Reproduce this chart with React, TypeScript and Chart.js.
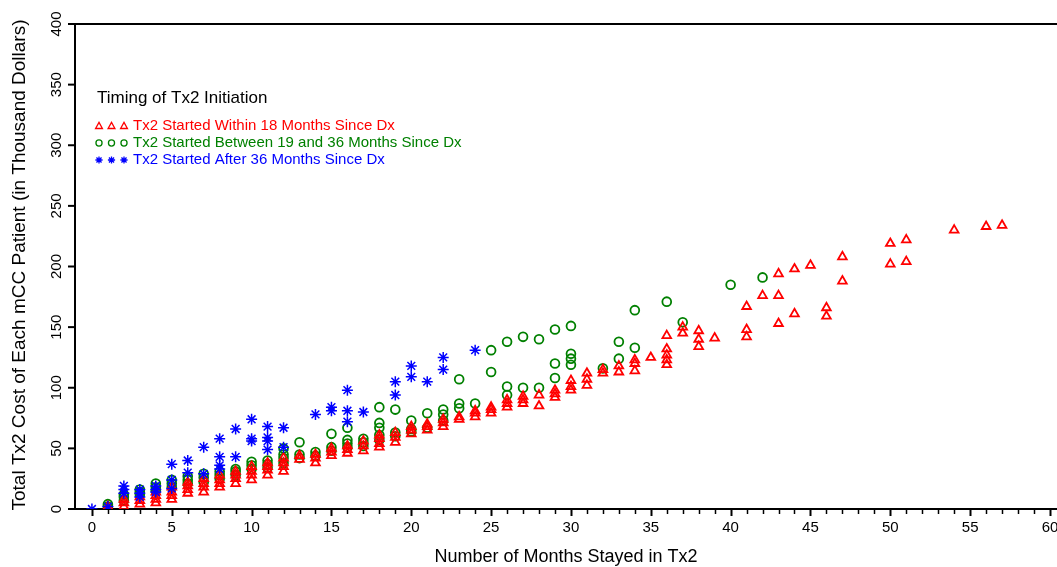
import React, { useEffect, useRef } from 'react';
import { Chart, registerables } from 'chart.js';

Chart.register(...registerables);

// ---- Data (months stayed in Tx2, cost in thousand dollars) ----
const seriesLabels = [
  'Tx2 Started Within 18 Months Since Dx',
  'Tx2 Started Between 19 and 36 Months Since Dx',
  'Tx2 Started After 36 Months Since Dx',
];

const within18: [number, number][] = [
  [1, 0], [1, 2],
  [2, 2], [2, 5], [2, 8],
  [3, 4], [3, 7], [3, 10],
  [4, 5], [4, 8], [4, 11], [4, 14],
  [5, 8], [5, 11], [5, 14], [5, 18],
  [6, 13], [6, 16], [6, 19], [6, 22],
  [7, 14], [7, 18], [7, 21], [7, 25],
  [8, 18], [8, 21], [8, 24], [8, 28],
  [9, 21], [9, 25], [9, 28], [9, 31],
  [10, 24], [10, 28], [10, 31], [10, 35],
  [11, 28], [11, 32], [11, 35], [11, 38],
  [12, 31], [12, 35], [12, 38], [12, 42],
  [13, 41], [13, 44],
  [14, 38], [14, 42], [14, 45],
  [15, 44], [15, 47], [15, 50],
  [16, 46], [16, 49], [16, 52],
  [17, 48], [17, 52], [17, 56],
  [18, 51], [18, 54], [18, 58], [18, 61],
  [19, 55], [19, 59], [19, 63],
  [20, 62], [20, 65], [20, 68],
  [21, 65], [21, 68], [21, 70],
  [22, 68], [22, 71], [22, 74],
  [23, 74], [23, 76],
  [24, 76], [24, 79], [24, 81],
  [25, 79], [25, 82], [25, 84],
  [26, 84], [26, 87], [26, 90],
  [27, 87], [27, 90], [27, 93],
  [28, 85], [28, 94],
  [29, 92], [29, 95], [29, 98],
  [30, 98], [30, 101], [30, 106],
  [31, 102], [31, 107], [31, 112],
  [32, 112], [32, 115],
  [33, 113], [33, 118],
  [34, 114], [34, 120], [34, 123],
  [35, 125],
  [36, 119], [36, 123], [36, 127], [36, 132], [36, 143],
  [37, 145], [37, 150],
  [38, 134], [38, 140], [38, 147],
  [39, 141],
  [41, 142], [41, 148], [41, 167],
  [42, 176],
  [43, 153], [43, 176], [43, 194],
  [44, 161], [44, 198],
  [45, 201],
  [46, 159], [46, 166],
  [47, 188], [47, 208],
  [50, 202], [50, 219],
  [51, 204], [51, 222],
  [54, 230], [56, 233], [57, 234],
];

const between19and36: [number, number][] = [
  [1, 2], [1, 4],
  [2, 7], [2, 10], [2, 12],
  [3, 12], [3, 14], [3, 16],
  [4, 15], [4, 18], [4, 21],
  [5, 18], [5, 21], [5, 24],
  [6, 21], [6, 24], [6, 27],
  [7, 22], [7, 26], [7, 29],
  [8, 25], [8, 28], [8, 31],
  [9, 28], [9, 31], [9, 33],
  [10, 33], [10, 36], [10, 39],
  [11, 34], [11, 37], [11, 40],
  [12, 38], [12, 42], [12, 45], [12, 50],
  [13, 42], [13, 45], [13, 55],
  [14, 44], [14, 47],
  [15, 48], [15, 51], [15, 62],
  [16, 51], [16, 54], [16, 57], [16, 67],
  [17, 52], [17, 55], [17, 58],
  [18, 57], [18, 61], [18, 67], [18, 71], [18, 84],
  [19, 60], [19, 63], [19, 82],
  [20, 64], [20, 66], [20, 73],
  [21, 67], [21, 79],
  [22, 73], [22, 78], [22, 82],
  [23, 83], [23, 87], [23, 107],
  [24, 87],
  [25, 113], [25, 131],
  [26, 94], [26, 101], [26, 138],
  [27, 100], [27, 142],
  [28, 100], [28, 140],
  [29, 108], [29, 120], [29, 148],
  [30, 119], [30, 124], [30, 128], [30, 151],
  [32, 116],
  [33, 124], [33, 138],
  [34, 133], [34, 164],
  [36, 171],
  [37, 154],
  [40, 185],
  [42, 191],
];

const after36: [number, number][] = [
  [0, 0], [1, 2],
  [2, 13], [2, 16], [2, 19],
  [3, 10], [3, 13], [3, 16],
  [4, 14], [4, 16], [4, 19],
  [5, 17], [5, 24], [5, 37],
  [6, 30], [6, 40],
  [7, 29], [7, 51],
  [8, 33], [8, 36], [8, 43], [8, 58],
  [9, 43], [9, 66],
  [10, 56], [10, 58], [10, 74],
  [11, 49], [11, 56], [11, 59], [11, 68],
  [12, 51], [12, 67],
  [14, 78],
  [15, 81], [15, 84],
  [16, 72], [16, 81], [16, 98],
  [17, 80],
  [19, 94], [19, 105],
  [20, 109], [20, 118],
  [21, 105],
  [22, 115], [22, 125],
  [24, 131],
];

const xTickValues = [0, 5, 10, 15, 20, 25, 30, 35, 40, 45, 50, 55, 60];
const yTickValues = [0, 50, 100, 150, 200, 250, 300, 350, 400];
const xMinorStep = 1;

const seriesColors = ['#ff0000', '#008000', '#0000ff'];
const seriesShapes = ['triangle', 'circle', 'star'];

const FONT = '"Liberation Sans", Arial, Helvetica, sans-serif';

function drawShape(ctx: CanvasRenderingContext2D, shape: string, x: number, y: number, r: number) {
  ctx.beginPath();
  if (shape === 'triangle') {
    ctx.moveTo(x, y - r);
    ctx.lineTo(x + r * 0.95, y + r * 0.7);
    ctx.lineTo(x - r * 0.95, y + r * 0.7);
    ctx.closePath();
  } else if (shape === 'circle') {
    ctx.arc(x, y, r * 0.85, 0, Math.PI * 2);
  } else {
    for (let i = 0; i < 4; i++) {
      const a = (i * Math.PI) / 4;
      ctx.moveTo(x - Math.cos(a) * r, y - Math.sin(a) * r);
      ctx.lineTo(x + Math.cos(a) * r, y + Math.sin(a) * r);
    }
  }
  ctx.stroke();
}

const decorPlugin = {
  id: 'decor',
  afterDraw(chart: any) {
    const { ctx, chartArea: area } = chart;
    const xs = chart.scales.x;
    const ys = chart.scales.y;
    ctx.save();
    ctx.strokeStyle = '#000';
    ctx.fillStyle = '#000';

    // top frame line
    ctx.lineWidth = 2;
    ctx.beginPath();
    ctx.moveTo(area.left - 1, area.top);
    ctx.lineTo(area.right, area.top);
    ctx.stroke();

    // x ticks (major + minor)
    const first = xTickValues[0];
    const last = xTickValues[xTickValues.length - 1];
    for (let v = first; v <= last; v += xMinorStep) {
      const px = Math.round(xs.getPixelForValue(v)) + 0.5;
      const major = xTickValues.includes(v);
      ctx.lineWidth = major ? 2 : 1.5;
      ctx.beginPath();
      ctx.moveTo(px, area.bottom);
      ctx.lineTo(px, area.bottom + (major ? 7 : 5));
      ctx.stroke();
    }
    ctx.font = `15px ${FONT}`;
    ctx.textAlign = 'center';
    ctx.textBaseline = 'middle';
    for (const v of xTickValues) {
      ctx.fillText(String(v), xs.getPixelForValue(v), area.bottom + 19);
    }

    // y ticks with rotated labels
    ctx.lineWidth = 2;
    for (const v of yTickValues) {
      const py = ys.getPixelForValue(v);
      ctx.beginPath();
      ctx.moveTo(area.left - 7, py);
      ctx.lineTo(area.left, py);
      ctx.stroke();
      ctx.save();
      ctx.translate(area.left - 18, py);
      ctx.rotate(-Math.PI / 2);
      ctx.fillText(String(v), 0, 0);
      ctx.restore();
    }

    // axis titles
    ctx.font = `18px ${FONT}`;
    ctx.fillText('Number of Months Stayed in Tx2', (area.left + area.right) / 2, 557);
    ctx.save();
    ctx.font = `19px ${FONT}`;
    ctx.translate(20, 265);
    ctx.rotate(-Math.PI / 2);
    ctx.fillText('Total Tx2 Cost of Each mCC Patient (in Thousand Dollars)', 0, 0);
    ctx.restore();

    // legend
    ctx.textAlign = 'left';
    ctx.font = `17px ${FONT}`;
    ctx.fillText('Timing of Tx2 Initiation', 97, 98);
    ctx.font = `15px ${FONT}`;
    const rowY = [126, 143, 160];
    seriesLabels.forEach((label, i) => {
      ctx.strokeStyle = seriesColors[i];
      ctx.fillStyle = seriesColors[i];
      ctx.lineWidth = 1.3;
      for (const mx of [99, 111.5, 124]) {
        drawShape(ctx, seriesShapes[i], mx, rowY[i], 3.6);
      }
      ctx.fillText(label, 133, rowY[i]);
    });
    ctx.restore();
  },
};

export default function App() {
  const canvasRef = useRef<HTMLCanvasElement | null>(null);

  useEffect(() => {
    const canvas = canvasRef.current;
    if (!canvas) return;
    const toPoints = (arr: [number, number][]) => arr.map(([x, y]) => ({ x, y }));
    const chart = new Chart(canvas, {
      type: 'scatter',
      data: {
        datasets: [
          {
            label: seriesLabels[2],
            data: toPoints(after36),
            pointStyle: 'star',
            pointRadius: 5.5,
            borderColor: seriesColors[2],
            backgroundColor: 'rgba(0,0,0,0)',
            pointBorderWidth: 1.5,
            order: 0,
          },
          {
            label: seriesLabels[0],
            data: toPoints(within18),
            pointStyle: 'triangle',
            pointRadius: 5,
            borderColor: seriesColors[0],
            backgroundColor: 'rgba(0,0,0,0)',
            pointBorderWidth: 1.8,
            order: 1,
          },
          {
            label: seriesLabels[1],
            data: toPoints(between19and36),
            pointStyle: 'circle',
            pointRadius: 4.4,
            borderColor: seriesColors[1],
            backgroundColor: 'rgba(0,0,0,0)',
            pointBorderWidth: 1.8,
            order: 2,
          },
        ],
      },
      options: {
        animation: false,
        responsive: false,
        layout: { autoPadding: false, padding: { top: 24, left: 0, right: 0, bottom: 0 } },
        plugins: { legend: { display: false }, tooltip: { enabled: false } },
        scales: {
          x: {
            type: 'linear',
            min: -1.06,
            max: 60.44,
            grid: { display: false },
            border: { display: true, color: '#000', width: 2 },
            ticks: { display: false },
            afterFit: (scale: any) => { scale.height = 58; },
          },
          y: {
            type: 'linear',
            min: 0,
            max: 400,
            grid: { display: false },
            border: { display: true, color: '#000', width: 2 },
            ticks: { display: false },
            afterFit: (scale: any) => { scale.width = 75; },
          },
        },
      },
      plugins: [decorPlugin],
    });
    return () => chart.destroy();
  }, []);

  return (
    <div style={{ position: 'fixed', left: 0, top: 0, width: 1057, height: 567, background: '#fff' }}>
      <canvas ref={canvasRef} width={1057} height={567} />
    </div>
  );
}
